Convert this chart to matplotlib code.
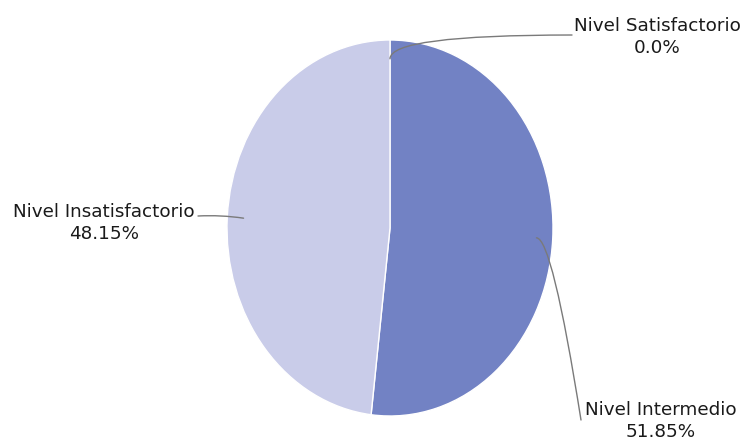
import numpy as np
import matplotlib.pyplot as plt

# Data
labels = ["Nivel Satisfactorio", "Nivel Intermedio", "Nivel Insatisfactorio"]
values = [0.0, 51.85, 48.15]
pct_text = ["0.0%", "51.85%", "48.15%"]
colors = ["#4a5aa8", "#7282c4", "#c9cce9"]

fig = plt.figure(figsize=(7.43, 4.43), dpi=100)
ax = fig.add_axes([0, 0, 1, 1])

wedges, _ = ax.pie(values, colors=colors, startangle=90, counterclock=False,
                   wedgeprops=dict(edgecolor="white", linewidth=1))

# stretch the pie into the tall ellipse of the original
ax.set_aspect("auto")
ax.set_xlim(-390 / 163, (743 - 390) / 163)
ax.set_ylim(-215 / 188, 228 / 188)
ax.axis("off")

def px(x, y):
    # pixel position in the picture -> data coords
    return ((x - 390) / 163, (228 - y) / 188)

# label placement
text_pos = [px(657, 37), px(661, 421), px(104, 223)]
line_end = [px(572, 35), px(581, 420), px(198, 216)]
conn = ["angle3,angleA=0,angleB=90",
        "angle3,angleA=99,angleB=0",
        "arc3,rad=-0.05"]

cum = 0
for i, w in enumerate(wedges):
    mid = np.deg2rad(90 - (cum + values[i] / 2) * 3.6)
    cum += values[i]
    anchor = (0.9 * np.cos(mid), 0.9 * np.sin(mid))
    ax.annotate("", xy=anchor, xytext=line_end[i],
                arrowprops=dict(arrowstyle="-", color="#7a7a7a", lw=1,
                                connectionstyle=conn[i], shrinkA=0, shrinkB=0))
    ax.text(text_pos[i][0], text_pos[i][1], labels[i] + "\n" + pct_text[i],
            ha="center", va="center", fontsize=13.2, color="#1a1a1a",
            linespacing=1.3)

fig.savefig("out.png", dpi=100)
